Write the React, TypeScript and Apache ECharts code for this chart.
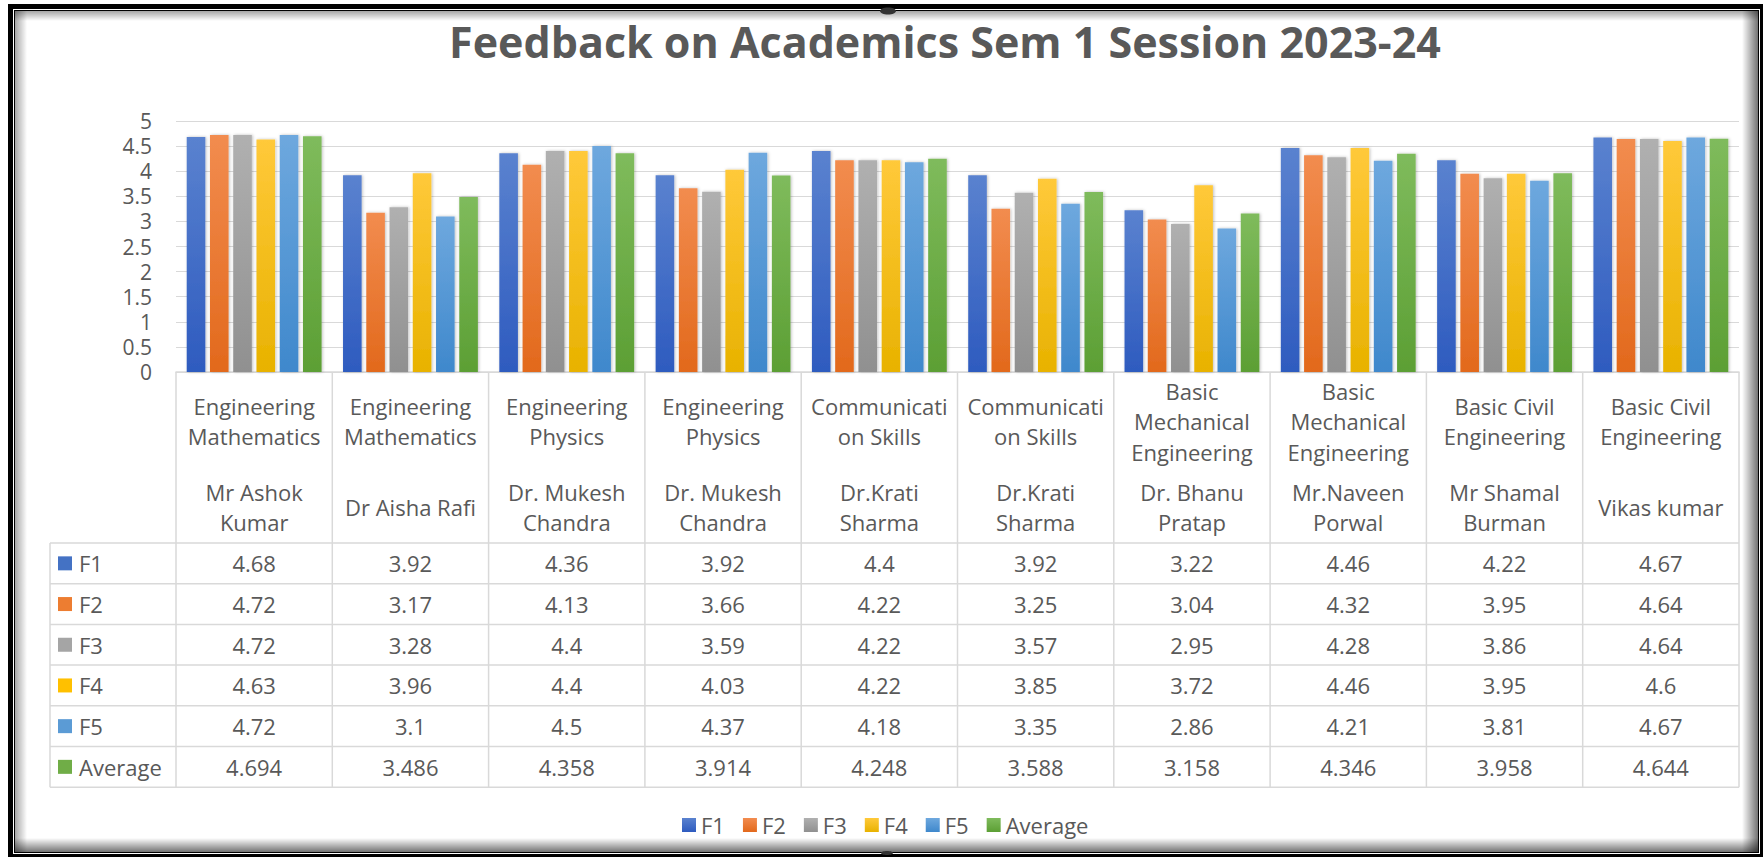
import React, { useEffect, useRef } from "react";
import * as echarts from "echarts";

// ---------- data ----------
const subjects = [
  "Engineering\nMathematics",
  "Engineering\nMathematics",
  "Engineering\nPhysics",
  "Engineering\nPhysics",
  "Communicati\non Skills",
  "Communicati\non Skills",
  "Basic\nMechanical\nEngineering",
  "Basic\nMechanical\nEngineering",
  "Basic Civil\nEngineering",
  "Basic Civil\nEngineering",
];
const teachers = [
  "Mr Ashok\nKumar",
  "Dr Aisha Rafi",
  "Dr. Mukesh\nChandra",
  "Dr. Mukesh\nChandra",
  "Dr.Krati\nSharma",
  "Dr.Krati\nSharma",
  "Dr. Bhanu\nPratap",
  "Mr.Naveen\nPorwal",
  "Mr Shamal\nBurman",
  "Vikas kumar",
];
const seriesNames = ["F1", "F2", "F3", "F4", "F5", "Average"];
const f1 = [4.68, 3.92, 4.36, 3.92, 4.4, 3.92, 3.22, 4.46, 4.22, 4.67];
const f2 = [4.72, 3.17, 4.13, 3.66, 4.22, 3.25, 3.04, 4.32, 3.95, 4.64];
const f3 = [4.72, 3.28, 4.4, 3.59, 4.22, 3.57, 2.95, 4.28, 3.86, 4.64];
const f4 = [4.63, 3.96, 4.4, 4.03, 4.22, 3.85, 3.72, 4.46, 3.95, 4.6];
const f5 = [4.72, 3.1, 4.5, 4.37, 4.18, 3.35, 2.86, 4.21, 3.81, 4.67];
const average = [4.694, 3.486, 4.358, 3.914, 4.248, 3.588, 3.158, 4.346, 3.958, 4.644];
const seriesValues = [f1, f2, f3, f4, f5, average];
const title = "Feedback on Academics Sem 1 Session 2023-24";

// ---------- styles ----------
const baseColors = ["#4472C4", "#ED7D31", "#A5A5A5", "#FFC000", "#5B9BD5", "#70AD47"];
const topColors = ["#5a82cf", "#f28c4f", "#b0b0b0", "#ffc93a", "#6ea8de", "#7fbb5c"];
const bottomColors = ["#2e5bbf", "#e2691c", "#909090", "#e8b200", "#3f88cc", "#5c9f34"];
const FONT = "'Open Sans', 'Noto Sans', sans-serif";
const TEXT = "#595959";
const LINE = "#d9d9d9";

const W = 1763;
const H = 857;
const X0 = 176;
const X1 = 1739;
const Y_TOP = 121;
const Y_ZERO = 372;
const HEADER_BOTTOM = 543;
const ROW_H = 40.7;
const TABLE_LEFT = 50;

export default function App() {
  const ref = useRef<HTMLDivElement>(null);

  useEffect(() => {
    if (!ref.current) return;
    const chart = echarts.init(ref.current, undefined, { renderer: "svg" });

    const categories = subjects.map((s, i) => s.replace(/\n/g, " ") + " " + teachers[i].replace(/\n/g, " "));
    const nCols = categories.length;
    const colW = (X1 - X0) / nCols;
    const tableBottom = HEADER_BOTTOM + ROW_H * seriesNames.length;

    const graphics: any[] = [];

    // frame
    graphics.push({ type: "rect", z: -100, shape: { x: 8, y: 4, width: W - 8, height: H - 4 }, style: { fill: "#000" } });
    graphics.push({ type: "rect", z: -99, shape: { x: 13, y: 9, width: 1760 - 13, height: 854 - 9 }, style: { fill: "#fff" } });
    graphics.push({ type: "rect", z: -98, shape: { x: 14, y: 10, width: 1759 - 14, height: 853 - 10 }, style: { fill: "#000" } });
    graphics.push({ type: "rect", z: -97, shape: { x: 15, y: 11, width: 1758 - 15, height: 852 - 11 }, style: { fill: "#fff" } });
    // inner shadows
    graphics.push({
      type: "rect", z: -96, shape: { x: 15, y: 11, width: 12, height: 852 - 11 },
      style: { fill: new echarts.graphic.LinearGradient(0, 0, 1, 0, [{ offset: 0, color: "rgba(0,0,0,0.35)" }, { offset: 1, color: "rgba(0,0,0,0)" }]) },
    });
    graphics.push({
      type: "rect", z: -96, shape: { x: 15, y: 11, width: 1758 - 15, height: 10 },
      style: { fill: new echarts.graphic.LinearGradient(0, 0, 0, 1, [{ offset: 0, color: "rgba(0,0,0,0.35)" }, { offset: 1, color: "rgba(0,0,0,0)" }]) },
    });
    graphics.push({
      type: "rect", z: -96, shape: { x: 1742, y: 11, width: 16, height: 852 - 11 },
      style: { fill: new echarts.graphic.LinearGradient(0, 0, 1, 0, [{ offset: 0, color: "rgba(0,0,0,0)" }, { offset: 1, color: "rgba(0,0,0,0.55)" }]) },
    });
    graphics.push({
      type: "rect", z: -96, shape: { x: 15, y: 838, width: 1758 - 15, height: 14 },
      style: { fill: new echarts.graphic.LinearGradient(0, 0, 0, 1, [{ offset: 0, color: "rgba(0,0,0,0)" }, { offset: 1, color: "rgba(0,0,0,0.55)" }]) },
    });
    // selection handles
    graphics.push({ type: "ellipse", z: 5, shape: { cx: 888, cy: 11, rx: 8, ry: 3.5 }, style: { fill: "#333" } });
    graphics.push({ type: "ellipse", z: 5, shape: { cx: 887, cy: 853, rx: 6, ry: 2 }, style: { fill: "#333" } });

    // title
    graphics.push({
      type: "text", z: 10, x: 945, y: 41,
      style: { text: title, fill: TEXT, fontFamily: FONT, fontSize: 43, fontWeight: "bold", align: "center", verticalAlign: "middle" },
    });

    // table lines
    for (let r = 0; r <= seriesNames.length; r++) {
      const y = HEADER_BOTTOM + r * ROW_H;
      graphics.push({ type: "line", z: 10, shape: { x1: TABLE_LEFT, y1: y, x2: X1, y2: y }, style: { stroke: LINE, lineWidth: 1.5 } });
    }
    graphics.push({ type: "line", z: 10, shape: { x1: TABLE_LEFT, y1: HEADER_BOTTOM, x2: TABLE_LEFT, y2: tableBottom }, style: { stroke: LINE, lineWidth: 1.5 } });
    for (let c = 0; c <= nCols; c++) {
      const x = X0 + c * colW;
      graphics.push({ type: "line", z: 10, shape: { x1: x, y1: Y_ZERO, x2: x, y2: tableBottom }, style: { stroke: LINE, lineWidth: 1.5 } });
    }
    // header texts
    for (let c = 0; c < nCols; c++) {
      const cx = X0 + (c + 0.5) * colW;
      graphics.push({
        type: "text", z: 10, x: cx, y: 421,
        style: { text: subjects[c], fill: TEXT, fontFamily: FONT, fontSize: 22, lineHeight: 30.5, align: "center", verticalAlign: "middle" },
      });
      graphics.push({
        type: "text", z: 10, x: cx, y: 507,
        style: { text: teachers[c], fill: TEXT, fontFamily: FONT, fontSize: 22, lineHeight: 30.5, align: "center", verticalAlign: "middle" },
      });
    }
    // rows
    seriesNames.forEach((name, r) => {
      const cy = HEADER_BOTTOM + (r + 0.5) * ROW_H;
      graphics.push({ type: "rect", z: 10, shape: { x: 58, y: cy - 7, width: 14, height: 14 }, style: { fill: baseColors[r] } });
      graphics.push({
        type: "text", z: 10, x: 79, y: cy,
        style: { text: name, fill: TEXT, fontFamily: FONT, fontSize: 22, align: "left", verticalAlign: "middle" },
      });
      seriesValues[r].forEach((v, c) => {
        graphics.push({
          type: "text", z: 10, x: X0 + (c + 0.5) * colW, y: cy,
          style: { text: String(v), fill: TEXT, fontFamily: FONT, fontSize: 22, align: "center", verticalAlign: "middle" },
        });
      });
    });

    const option: any = {
      animation: false,
      backgroundColor: "#fff",
      textStyle: { fontFamily: FONT },
      grid: { left: X0, right: W - X1, top: Y_TOP, bottom: H - Y_ZERO, containLabel: false },
      xAxis: {
        type: "category",
        data: categories,
        axisLabel: { show: false },
        axisTick: { show: false },
        axisLine: { show: true, lineStyle: { color: LINE, width: 1.5 } },
      },
      yAxis: {
        type: "value",
        min: 0,
        max: 5,
        interval: 0.5,
        axisLine: { show: false },
        axisTick: { show: false },
        axisLabel: { fontSize: 21, color: TEXT, fontFamily: FONT, margin: 24 },
        splitLine: { lineStyle: { color: LINE, width: 1.2 } },
      },
      legend: {
        left: 677,
        top: 809,
        itemWidth: 14,
        itemHeight: 14,
        itemGap: 18,
        icon: "rect",
        data: seriesNames,
        textStyle: { fontSize: 22, color: TEXT, fontFamily: FONT, lineHeight: 22 },
      },
      series: seriesNames.map((name, i) => ({
        name,
        type: "bar",
        data: seriesValues[i],
        barWidth: 18.6,
        barGap: "25%",
        itemStyle: {
          color: new echarts.graphic.LinearGradient(0, 0, 0, 1, [
            { offset: 0, color: topColors[i] },
            { offset: 1, color: bottomColors[i] },
          ]),
          shadowBlur: 3,
          shadowColor: "rgba(0,0,0,0.25)",
          shadowOffsetX: 1,
          shadowOffsetY: 0,
        },
      })),
      graphic: { elements: graphics },
    };

    chart.setOption(option);
    return () => chart.dispose();
  }, []);

  return (
    <div
      ref={ref}
      style={{ position: "absolute", left: 0, top: 0, width: W, height: H }}
    />
  );
}
